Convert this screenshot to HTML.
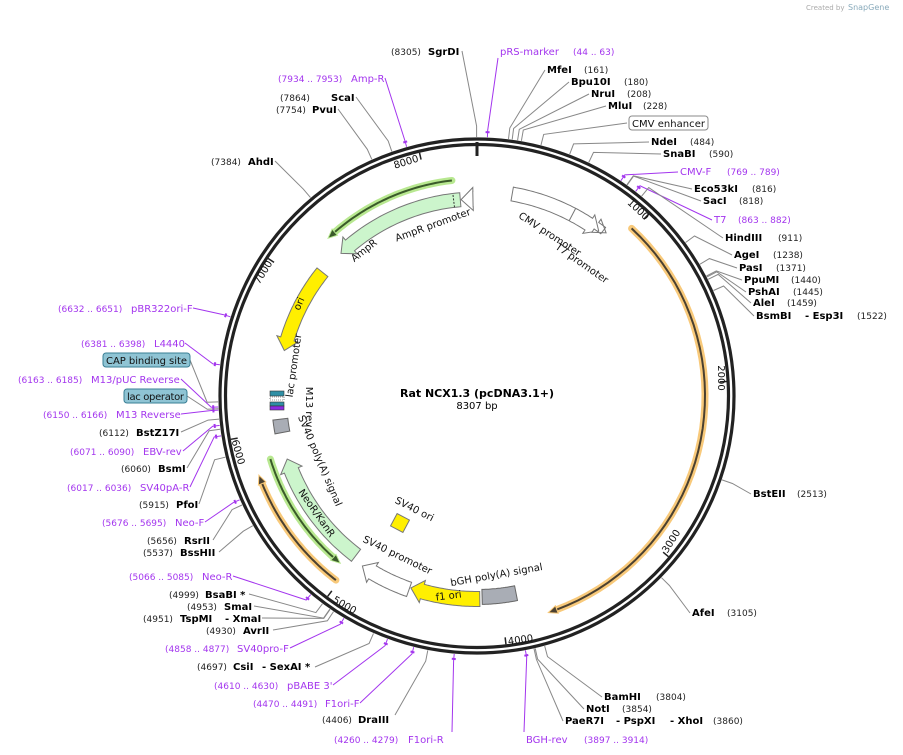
<!DOCTYPE html>
<html><head><meta charset="utf-8">
<style>
html,body{margin:0;padding:0;background:#fff;}
svg{display:block;font-family:"DejaVu Sans","Liberation Sans",sans-serif;}
.b{font-weight:bold;font-size:10px;fill:#000;}
.n{font-size:9px;fill:#222;}
.p{font-size:10px;fill:#a335ee;}
.pn{font-size:9px;fill:#a335ee;}
.f{font-size:10px;fill:#111;}
.t{font-size:10px;fill:#111;}
</style></head><body>
<svg id="s" width="903" height="755" viewBox="0 0 903 755" xmlns="http://www.w3.org/2000/svg">
<g id="lead"></g>
<g id="feat"></g>
<circle cx="477" cy="396" r="257" fill="none" stroke="#222" stroke-width="3.2"/>
<circle cx="477" cy="396" r="251.5" fill="none" stroke="#222" stroke-width="3.2"/>
<g id="ticks"></g>

<text x="806" y="10" font-size="7" fill="#aaa">Created by</text>
<text x="848" y="10" font-size="8" fill="#8ab">SnapGene</text>

<text x="477" y="397" text-anchor="middle" font-size="11" font-weight="bold">Rat NCX1.3 (pcDNA3.1+)</text>
<text x="477" y="409" text-anchor="middle" font-size="10">8307 bp</text>

<text class="t" transform="translate(636,212) rotate(43)" text-anchor="middle">1000</text>
<text class="t" transform="translate(718,378) rotate(90)" text-anchor="middle">2000</text>
<text class="t" transform="translate(674,543) rotate(-58)" text-anchor="middle">3000</text>
<text class="t" transform="translate(521,643) rotate(-8)" text-anchor="middle">4000</text>
<text class="t" transform="translate(343,608) rotate(30)" text-anchor="middle">5000</text>
<text class="t" transform="translate(235,453) rotate(74)" text-anchor="middle">6000</text>
<text class="t" transform="translate(266,274) rotate(-58)" text-anchor="middle">7000</text>
<text class="t" transform="translate(407,165) rotate(-17)" text-anchor="middle">8000</text>

<text class="f" transform="translate(548,237) rotate(33)" text-anchor="middle">CMV promoter</text>
<text class="f" transform="translate(580,266) rotate(35)" text-anchor="middle">T7 promoter</text>
<text class="f" transform="translate(434,228) rotate(-20)" text-anchor="middle">AmpR promoter</text>
<text class="f" transform="translate(366,253) rotate(-38)" text-anchor="middle">AmpR</text>
<text class="f" transform="translate(302,305) rotate(-66)" text-anchor="middle">ori</text>
<text class="f" transform="translate(297,366) rotate(-82)" text-anchor="middle">lac promoter</text>
<text class="f" transform="translate(306,407) rotate(90)" text-anchor="middle">M13 rev</text>
<text class="f" transform="translate(317,462) rotate(67)" text-anchor="middle">SV40 poly(A) signal</text>
<text class="f" transform="translate(314,515) rotate(55)" text-anchor="middle">NeoR/KanR</text>
<text class="f" transform="translate(396,558) rotate(26)" text-anchor="middle">SV40 promoter</text>
<text class="f" transform="translate(497,578) rotate(-10)" text-anchor="middle">bGH poly(A) signal</text>
<text class="f" transform="translate(449,599) rotate(-7)" text-anchor="middle">f1 ori</text>
<text class="f" transform="translate(413,512) rotate(27)" text-anchor="middle">SV40 ori</text>
<rect x="393" y="516" width="14" height="14" fill="#ffef00" stroke="#777" transform="rotate(28 400 523)"/>

<text class="p" x="500" y="55">pRS-marker</text><text class="pn" x="573" y="55">(44 .. 63)</text>
<text class="b" x="547" y="73">MfeI</text><text class="n" x="584" y="73">(161)</text>
<text class="b" x="571" y="85">Bpu10I</text><text class="n" x="624" y="85">(180)</text>
<text class="b" x="591" y="97">NruI</text><text class="n" x="627" y="97">(208)</text>
<text class="b" x="608" y="109">MluI</text><text class="n" x="643" y="109">(228)</text>
<rect x="629" y="116" width="79" height="14" rx="3" fill="#fff" stroke="#888"/>
<text x="632" y="127" font-size="10" fill="#111" textLength="73">CMV enhancer</text>
<text class="b" x="651" y="145">NdeI</text><text class="n" x="690" y="145">(484)</text>
<text class="b" x="663" y="157">SnaBI</text><text class="n" x="709" y="157">(590)</text>
<text class="p" x="680" y="175">CMV-F</text><text class="pn" x="727" y="175">(769 .. 789)</text>
<text class="b" x="694" y="192">Eco53kI</text><text class="n" x="752" y="192">(816)</text>
<text class="b" x="703" y="204">SacI</text><text class="n" x="739" y="204">(818)</text>
<text class="p" x="714" y="223">T7</text><text class="pn" x="738" y="223">(863 .. 882)</text>
<text class="b" x="725" y="241">HindIII</text><text class="n" x="778" y="241">(911)</text>
<text class="b" x="734" y="258">AgeI</text><text class="n" x="773" y="258">(1238)</text>
<text class="b" x="739" y="271">PasI</text><text class="n" x="776" y="271">(1371)</text>
<text class="b" x="744" y="283">PpuMI</text><text class="n" x="791" y="283">(1440)</text>
<text class="b" x="748" y="295">PshAI</text><text class="n" x="793" y="295">(1445)</text>
<text class="b" x="753" y="306">AleI</text><text class="n" x="787" y="306">(1459)</text>
<text class="b" x="756" y="319">BsmBI</text><text class="b" x="805" y="319">- Esp3I</text><text class="n" x="857" y="319">(1522)</text>
<text class="b" x="753" y="497">BstEII</text><text class="n" x="797" y="497">(2513)</text>
<text class="b" x="692" y="616">AfeI</text><text class="n" x="727" y="616">(3105)</text>
<text class="b" x="604" y="700">BamHI</text><text class="n" x="656" y="700">(3804)</text>
<text class="b" x="586" y="712">NotI</text><text class="n" x="622" y="712">(3854)</text>
<text class="b" x="565" y="724">PaeR7I</text><text class="b" x="616" y="724">- PspXI</text><text class="b" x="670" y="724">- XhoI</text><text class="n" x="713" y="724">(3860)</text>
<text class="p" x="526" y="743">BGH-rev</text><text class="pn" x="584" y="743">(3897 .. 3914)</text>

<text class="pn" x="334" y="743">(4260 .. 4279)</text><text class="p" x="408" y="743">F1ori-R</text>
<text class="n" x="322" y="723">(4406)</text><text class="b" x="358" y="723">DraIII</text>
<text class="pn" x="253" y="707">(4470 .. 4491)</text><text class="p" x="325" y="707">F1ori-F</text>
<text class="pn" x="214" y="689">(4610 .. 4630)</text><text class="p" x="287" y="689">pBABE 3'</text>
<text class="n" x="197" y="670">(4697)</text><text class="b" x="233" y="670">CsiI</text><text class="b" x="262" y="670">- SexAI *</text>
<text class="pn" x="165" y="652">(4858 .. 4877)</text><text class="p" x="237" y="652">SV40pro-F</text>
<text class="n" x="206" y="634">(4930)</text><text class="b" x="243" y="634">AvrII</text>
<text class="n" x="143" y="622">(4951)</text><text class="b" x="180" y="622">TspMI</text><text class="b" x="225" y="622">- XmaI</text>
<text class="n" x="187" y="610">(4953)</text><text class="b" x="224" y="610">SmaI</text>
<text class="n" x="169" y="598">(4999)</text><text class="b" x="205" y="598">BsaBI *</text>
<text class="pn" x="129" y="580">(5066 .. 5085)</text><text class="p" x="202" y="580">Neo-R</text>

<text class="n" x="391" y="55">(8305)</text><text class="b" x="428" y="55">SgrDI</text>
<text class="pn" x="278" y="82">(7934 .. 7953)</text><text class="p" x="351" y="82">Amp-R</text>
<text class="n" x="280" y="101">(7864)</text><text class="b" x="331" y="101">ScaI</text>
<text class="n" x="276" y="113">(7754)</text><text class="b" x="312" y="113">PvuI</text>
<text class="n" x="211" y="165">(7384)</text><text class="b" x="248" y="165">AhdI</text>
<text class="pn" x="58" y="312">(6632 .. 6651)</text><text class="p" x="131" y="312">pBR322ori-F</text>
<text class="pn" x="81" y="347">(6381 .. 6398)</text><text class="p" x="154" y="347">L4440</text>
<rect x="103" y="353" width="87" height="14" rx="3" fill="#8fc4d4" stroke="#3a7f95"/>
<text x="106" y="364" font-size="10" fill="#111" textLength="81">CAP binding site</text>
<text class="pn" x="18" y="383">(6163 .. 6185)</text><text class="p" x="91" y="383">M13/pUC Reverse</text>
<rect x="124" y="389" width="63" height="14" rx="3" fill="#8fc4d4" stroke="#3a7f95"/>
<text x="127" y="400" font-size="10" fill="#111" textLength="57">lac operator</text>
<text class="pn" x="43" y="418">(6150 .. 6166)</text><text class="p" x="116" y="418">M13 Reverse</text>
<text class="n" x="99" y="436">(6112)</text><text class="b" x="136" y="436">BstZ17I</text>
<text class="pn" x="70" y="455">(6071 .. 6090)</text><text class="p" x="143" y="455">EBV-rev</text>
<text class="n" x="121" y="472">(6060)</text><text class="b" x="158" y="472">BsmI</text>
<text class="pn" x="67" y="491">(6017 .. 6036)</text><text class="p" x="140" y="491">SV40pA-R</text>
<text class="n" x="139" y="508">(5915)</text><text class="b" x="176" y="508">PfoI</text>
<text class="pn" x="102" y="526">(5676 .. 5695)</text><text class="p" x="175" y="526">Neo-F</text>
<text class="n" x="147" y="544">(5656)</text><text class="b" x="184" y="544">RsrII</text>
<text class="n" x="143" y="556">(5537)</text><text class="b" x="180" y="556">BssHII</text>
</svg>
<script>
(function(){
var NS="http://www.w3.org/2000/svg",cx=477,cy=396,L=8307;
function P(pos,r){var a=pos/L*2*Math.PI;return [cx+r*Math.sin(a),cy-r*Math.cos(a)];}
function el(g,t,at){var e=document.createElementNS(NS,t);for(var k in at)e.setAttribute(k,at[k]);document.getElementById(g).appendChild(e);return e;}
function arcPts(p1,p2,r,n){var o=[];for(var i=0;i<=n;i++){o.push(P(p1+(p2-p1)*i/n,r));}return o;}
function str(a){return a.map(function(q){return q[0].toFixed(1)+","+q[1].toFixed(1)}).join(" ");}
function band(p1,p2,rc,w,head,fill,stroke){
  var hl=head? (12/(2*Math.PI*rc/L)) :0;
  var pe=p2>p1?p2-hl:p2+hl;
  var o=arcPts(p1,pe,rc+w/2,30),i=arcPts(pe,p1,rc-w/2,30);
  var pts=o.slice();
  if(head){pts.push(P(pe,rc+w/2+4));pts.push(P(p2,rc));pts.push(P(pe,rc-w/2-4));}
  pts=pts.concat(i);
  el("feat","polygon",{points:str(pts),fill:fill,stroke:stroke,"stroke-width":1});
}
function line(p1,p2,r,halo,core){
  var hl=9/(2*Math.PI*r/L);var pe=p2>p1?p2-hl:p2+hl;
  var pts=arcPts(p1,pe,r,40);
  el("feat","polyline",{points:str(pts),fill:"none",stroke:halo,"stroke-width":7,"stroke-linecap":"round"});
  el("feat","polyline",{points:str(pts),fill:"none",stroke:core,"stroke-width":2});
  var a=P(pe,r+4),b=P(p2,r),c=P(pe,r-4);
  el("feat","polygon",{points:str([a,b,c]),fill:core,stroke:halo,"stroke-width":1});
}
for(var k=1000;k<=8000;k+=1000){var a=P(k,250),b=P(k,243);el("ticks","line",{x1:a[0],y1:a[1],x2:b[0],y2:b[1],stroke:"#222","stroke-width":1.5});}
el("ticks","line",{x1:477,y1:142,x2:477,y2:156,stroke:"#222","stroke-width":3});
band(228,840,205,14,1,"#fff","#777");
var d=P(640,198),d2=P(640,212);el("feat","line",{x1:d[0],y1:d[1],x2:d2[0],y2:d2[1],stroke:"#777"});
band(862,885,208,8,1,"#fff","#777");
line(985,3733,228,"#f8c97a","#4a4030");
band(3895,4120,201,15,0,"#a9adb5","#666");
band(4135,4592,203,15,1,"#ffef00","#777");
band(4600,4938,205,15,1,"#fff","#777");
band(5012,5806,200,15,1,"#ccf5cc","#777");
band(5985,6075,198,15,0,"#a9adb5","#666");
line(5838,5060,216,"#b8e890","#3a5a2a");
line(5018,5770,232,"#f8c97a","#4a4030");
band(7123,6537,198,14,1,"#ffef00","#777");
band(8195,7300,197,14,1,"#ccf5cc","#777");
var d3=P(8150,190),d4=P(8150,204);el("feat","line",{x1:d3[0],y1:d3[1],x2:d4[0],y2:d4[1],stroke:"#333","stroke-dasharray":"2,1.5"});
band(8280,8200,197,15,1,"#fff","#777");
line(8154,7307,217,"#b8e890","#3a5a2a");
el("feat","rect",{x:270,y:391,width:14,height:5,fill:"#2f8fa5",stroke:"#333","stroke-width":0.6});
el("feat","rect",{x:270,y:397,width:14,height:3,fill:"#fff",stroke:"#333","stroke-width":0.6,"stroke-dasharray":"1,1"});
el("feat","rect",{x:270,y:402,width:14,height:4,fill:"#2f8fa5",stroke:"#333","stroke-width":0.6});
el("feat","rect",{x:270,y:406,width:14,height:4,fill:"#8a2be2",stroke:"#333","stroke-width":0.6});
var Ld=[[53,498,58,1],[161,545,70],[180,569,82],[208,589,94],[228,606,106],[330,627,123],[484,649,142],[590,661,154],[779,678,172,1],[816,692,189],[818,701,201],[872,712,220,1],[911,723,238],[1238,732,255],[1371,737,268],[1440,742,280],[1445,746,292],[1459,751,303],[1522,754,316],
[2513,751,494],[3105,690,613],[3804,602,697],[3854,584,709],[3860,563,721],[3905,524,732,1],
[4270,452,732,1],[4406,395,715],[4480,360,703,1],[4620,333,685,1],[4697,315,667],[4867,290,648,1],[4930,273,630],[4951,262,618],[4953,254,606],[4999,249,594],[5075,233,576,1],
[5537,219,552],[5656,213,540],[5685,205,522,1],[5915,199,504],[6026,190,487,1],[6060,187,468],[6080,183,451,1],[6112,181,432],[6158,181,414,1],[6165,187,396],[6174,181,379,1],[6200,190,360],[6390,185,343,1],[6641,193,308,1],
[7384,275,161],[7754,338,109],[7864,356,97],[7943,385,78,1],[8305,462,51]];
Ld.forEach(function(q){
  var a=P(q[0],259),b=P(q[0],q[3]?266:270);
  var c=q[3]?"#a335ee":"#888";
  el("lead","polyline",{points:str([a,b,[q[1],q[2]]]),fill:"none",stroke:c,"stroke-width":1});
  if(q[3]){var m1=P(q[0]-10,264),m2=P(q[0]+10,264);el("lead","line",{x1:m1[0],y1:m1[1],x2:m2[0],y2:m2[1],stroke:c,"stroke-width":2});}
});
})();
</script>
</body></html>
